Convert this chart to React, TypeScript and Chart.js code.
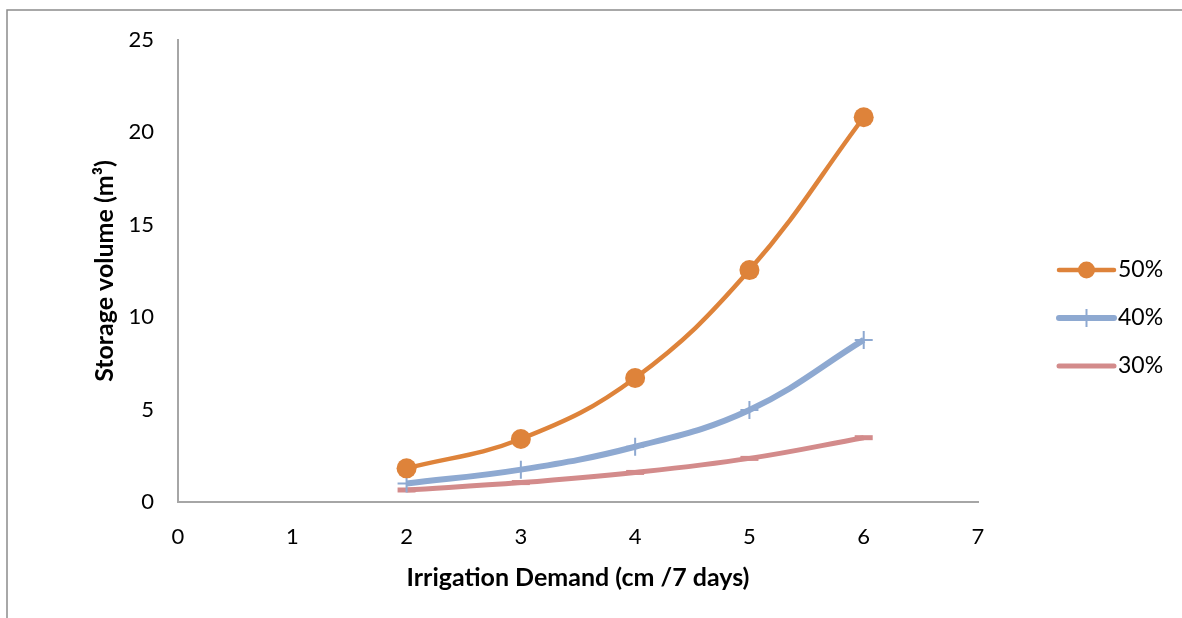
import React, { useEffect, useRef } from "react";
import { Chart, registerables } from "chart.js";

Chart.register(...registerables);

const xValues = [2, 3, 4, 5, 6];
const series50 = [1.82, 3.41, 6.71, 12.55, 20.82];
const series40 = [1.0, 1.75, 2.99, 4.98, 8.77];
const series30 = [0.65, 1.05, 1.6, 2.36, 3.48];
const seriesLabels = ["50%", "40%", "30%"];
const colors = ["#DE833A", "#8EA9D1", "#D38B8B"];

const FONT = "Lato";

const framePlugin = {
  id: "frame",
  beforeDraw(chart: any) {
    const ctx = chart.ctx;
    ctx.save();
    ctx.fillStyle = "#ffffff";
    ctx.fillRect(0, 0, chart.width, chart.height);
    ctx.strokeStyle = "#8c8c8c";
    ctx.lineWidth = 1.5;
    ctx.beginPath();
    ctx.moveTo(7, chart.height);
    ctx.lineTo(7, 10);
    ctx.lineTo(chart.width, 10);
    ctx.stroke();
    ctx.restore();
  },
};

const legendPlugin = {
  id: "customLegend",
  afterDraw(chart: any) {
    const ctx = chart.ctx;
    const ys = [270, 318, 366];
    const x0 = 1059;
    const x1 = 1114;
    ctx.save();
    chart.data.datasets.forEach((ds: any, i: number) => {
      const y = ys[i];
      ctx.strokeStyle = ds.borderColor;
      ctx.lineWidth = ds.borderWidth;
      ctx.lineCap = "round";
      ctx.beginPath();
      ctx.moveTo(x0, y);
      ctx.lineTo(x1, y);
      ctx.stroke();
      const cx = (x0 + x1) / 2;
      if (ds.pointStyle === "circle") {
        ctx.fillStyle = ds.pointBackgroundColor;
        ctx.beginPath();
        ctx.arc(cx, y, 8.5, 0, Math.PI * 2);
        ctx.fill();
      } else if (ds.pointStyle === "cross") {
        ctx.lineWidth = 2;
        ctx.lineCap = "butt";
        ctx.beginPath();
        ctx.moveTo(cx, y - 9);
        ctx.lineTo(cx, y + 9);
        ctx.stroke();
      }
      ctx.fillStyle = "#000";
      ctx.font = `23px ${FONT}`;
      ctx.textAlign = "left";
      ctx.textBaseline = "middle";
      ctx.fillText(seriesLabels[i], 1118, y);
    });
    ctx.restore();
  },
};

export default function App() {
  const ref = useRef<HTMLCanvasElement | null>(null);

  useEffect(() => {
    if (!ref.current) return;
    const toPts = (arr: number[]) => xValues.map((x, i) => ({ x, y: arr[i] }));
    const chart = new Chart(ref.current, {
      type: "line",
      data: {
        datasets: [
          {
            label: seriesLabels[0],
            data: toPts(series50),
            borderColor: colors[0],
            backgroundColor: colors[0],
            pointBackgroundColor: colors[0],
            pointBorderColor: colors[0],
            borderWidth: 4.5,
            pointStyle: "circle",
            pointRadius: 10,
            pointBorderWidth: 0,
            tension: 0.4,
          },
          {
            label: seriesLabels[1],
            data: toPts(series40),
            borderColor: colors[1],
            backgroundColor: colors[1],
            pointBackgroundColor: colors[1],
            pointBorderColor: colors[1],
            borderWidth: 6,
            pointStyle: "cross",
            pointRadius: 9,
            pointBorderWidth: 2,
            tension: 0.4,
          },
          {
            label: seriesLabels[2],
            data: toPts(series30),
            borderColor: colors[2],
            backgroundColor: colors[2],
            pointBackgroundColor: colors[2],
            pointBorderColor: colors[2],
            borderWidth: 5,
            pointStyle: "line",
            pointRadius: 9,
            pointBorderWidth: 5,
            tension: 0.4,
          },
        ],
      },
      options: {
        animation: false,
        responsive: false,
        maintainAspectRatio: false,
        layout: { padding: { left: 0, right: 204, top: 40, bottom: 0 } },
        plugins: {
          legend: { display: false },
          tooltip: { enabled: false },
        },
        scales: {
          x: {
            type: "linear",
            min: 0,
            max: 7,
            ticks: { stepSize: 1, color: "#000", font: { family: FONT, size: 22 }, padding: 22 },
            grid: { display: false, drawTicks: false },
            border: { display: true, color: "#a6a6a6", width: 2 },
            title: {
              display: true,
              text: "Irrigation Demand (cm /7 days)",
              color: "#000",
              font: { family: FONT, size: 25, weight: "bold" },
              padding: { top: 0, bottom: 25 },
            },
            afterFit: (s: any) => {
              s.height = 116;
            },
          },
          y: {
            min: 0,
            max: 25,
            ticks: { stepSize: 5, color: "#000", font: { family: FONT, size: 22 }, padding: 24 },
            grid: { display: false, drawTicks: false },
            border: { display: true, color: "#a6a6a6", width: 2 },
            title: {
              display: true,
              text: "Storage volume (m³)",
              color: "#000",
              font: { family: FONT, size: 25, weight: "bold" },
              padding: { top: 90, bottom: 0 },
            },
            afterFit: (s: any) => {
              s.width = 178;
            },
          },
        },
      },
      plugins: [framePlugin, legendPlugin],
    });
    return () => chart.destroy();
  }, []);

  return (
    <div style={{ position: "absolute", left: 0, top: 0, width: 1182, height: 618 }}>
      <canvas ref={ref} width={1182} height={618} style={{ display: "block" }} />
    </div>
  );
}
